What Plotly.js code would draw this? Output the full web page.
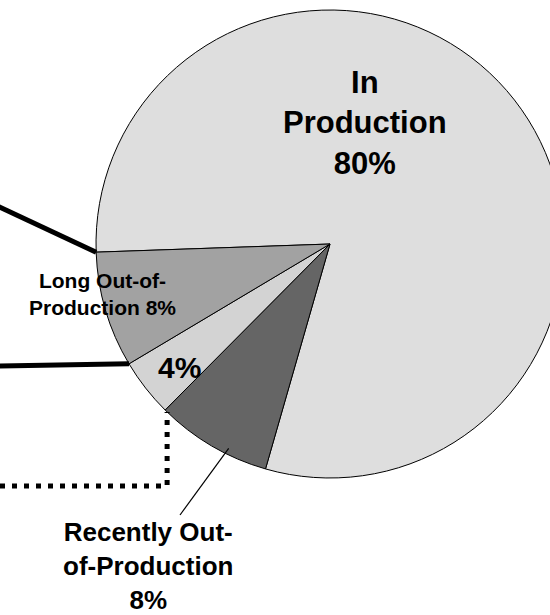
<!DOCTYPE html>
<html>
<head>
<meta charset="utf-8">
<script src="https://cdn.plot.ly/plotly-3.0.1.min.js"></script>
<style>
  html, body { margin: 0; padding: 0; overflow: hidden; background: #ffffff; }
  #chart { width: 600px; height: 615px; }
</style>
</head>
<body>
<div id="chart"></div>
<script>
// Production status shares (percent)
const categories = ['In Production', 'Recently Out-of-Production', 'Other Out-of-Production', 'Long Out-of-Production'];
const shares = [80, 8, 4, 8];
const sliceColors = ['#dedede', '#656565', '#d3d3d3', '#a2a2a2'];
// Label text before each percentage
const labelPrefixes = ['In<br>Production<br>', 'Recently Out-<br>of-Production<br>', '', 'Long Out-of-<br>Production '];

// Canvas and pie geometry (pixels)
const W = 600, H = 615;
const cx = 330, cy = 244, R = 234;
const startAngle = 268;

const px = x => x / W;
const py = y => 1 - y / H;

// Slice boundary angles, clockwise from 12 o'clock
const total = shares.reduce((a, b) => a + b, 0);
const bounds = [startAngle];
shares.forEach(v => bounds.push(bounds[bounds.length - 1] + v / total * 360));
function edgePoint(angle, rf) {
  const t = angle * Math.PI / 180;
  return [cx + rf * R * Math.sin(t), cy - rf * R * Math.cos(t)];
}

const trace = {
  type: 'pie',
  labels: categories,
  values: shares,
  sort: false,
  direction: 'clockwise',
  rotation: startAngle,
  textinfo: 'none',
  hoverinfo: 'none',
  marker: { colors: sliceColors, line: { color: '#000000', width: 1 } },
  domain: { x: [px(cx - R), px(cx + R)], y: [py(cy + R), py(cy - R)] }
};

// Label placements (pixel centres) and font sizes
const labelPos = [[365, 123], [148, 566], [179, 367], [102, 294]];
const labelSize = [31, 26, 30, 21];
const annotations = categories.map((c, i) => ({
  xref: 'paper', yref: 'paper',
  x: px(labelPos[i][0]), y: py(labelPos[i][1]),
  xanchor: 'center', yanchor: 'middle', align: 'center',
  showarrow: false,
  text: '<b>' + labelPrefixes[i] + shares[i] + '%</b>',
  font: { family: 'Arial, "Liberation Sans", sans-serif', size: labelSize[i], color: '#000000' }
}));

// Callout lines to the slice edges
const pLong = edgePoint(bounds[4], 1);
const pOther = edgePoint(bounds[3], 1);
const pRecent = edgePoint(bounds[2], 1);
const pInside = edgePoint(bounds[1] + 0.36 * (bounds[2] - bounds[1]), 0.975);

const shapes = [
  { type: 'line', xref: 'paper', yref: 'paper',
    x0: px(-5), y0: py(205), x1: px(pLong[0]), y1: py(pLong[1]),
    line: { color: '#000000', width: 5 } },
  { type: 'line', xref: 'paper', yref: 'paper',
    x0: px(-5), y0: py(366), x1: px(pOther[0]), y1: py(pOther[1]),
    line: { color: '#000000', width: 5 } },
  { type: 'path', xref: 'paper', yref: 'paper',
    path: 'M ' + px(0) + ',' + py(486) + ' L ' + px(pRecent[0] + 2) + ',' + py(486) +
          ' L ' + px(pRecent[0] + 2) + ',' + py(pRecent[1] + 2),
    line: { color: '#000000', width: 5, dash: '5px,7px' } },
  { type: 'line', xref: 'paper', yref: 'paper',
    x0: px(180), y0: py(515), x1: px(pInside[0]), y1: py(pInside[1]),
    line: { color: '#000000', width: 1.2 } }
];

const layout = {
  width: W, height: H,
  margin: { l: 0, r: 0, t: 0, b: 0 },
  paper_bgcolor: '#ffffff',
  showlegend: false,
  annotations: annotations,
  shapes: shapes
};

Plotly.newPlot('chart', [trace], layout, { staticPlot: true, displayModeBar: false });
</script>
</body>
</html>
